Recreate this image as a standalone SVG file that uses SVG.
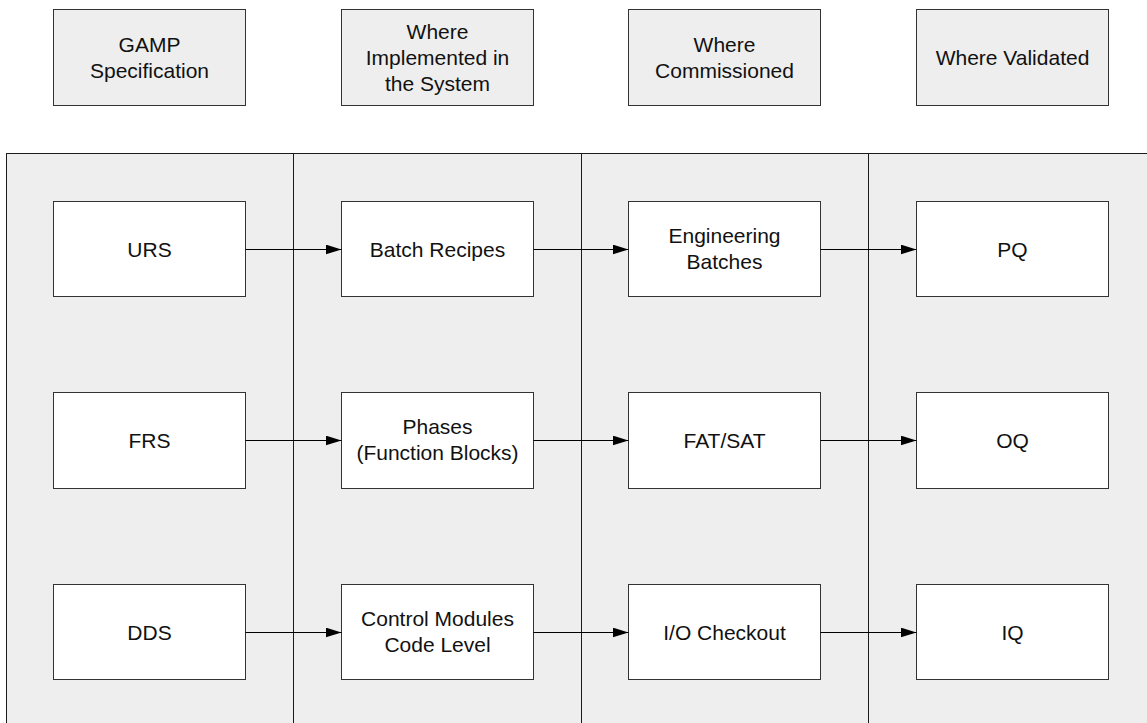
<svg xmlns="http://www.w3.org/2000/svg" width="1147" height="723" viewBox="0 0 1147 723">
<style>
.hdr{fill:#eeeeee;stroke:#333333;stroke-width:1}
.box{fill:#ffffff;stroke:#333333;stroke-width:1}
.lane{fill:#eeeeee;stroke:#1a1a1a;stroke-width:1}
.div{stroke:#1a1a1a;stroke-width:1;fill:none}
.t{font-family:"Liberation Sans",Arial,sans-serif;font-size:21px;fill:#111111;text-anchor:middle}
.c{stroke:#000000;stroke-width:1;fill:none;marker-end:url(#ah)}
</style>
<defs>
<marker id="ah" viewBox="0 0 16 10" refX="16" refY="5" markerWidth="16" markerHeight="10" markerUnits="userSpaceOnUse" orient="auto">
<path d="M0,0 L16,5 L0,10 Z" fill="#000000"/>
</marker>
</defs>
<rect width="1147" height="723" fill="#ffffff"/>
<g id="panel">
<rect class="lane" x="6.5" y="153.5" width="1160" height="600"/>
<line class="div" x1="293.5" y1="153.5" x2="293.5" y2="723"/>
<line class="div" x1="581.5" y1="153.5" x2="581.5" y2="723"/>
<line class="div" x1="868.5" y1="153.5" x2="868.5" y2="723"/>
</g>
<g id="h1"><rect class="hdr" x="53.5" y="9.5" width="192" height="96"/><text class="t" x="149.5" y="52">GAMP</text><text class="t" x="149.5" y="78">Specification</text></g>
<g id="h2"><rect class="hdr" x="341.5" y="9.5" width="192" height="96"/><text class="t" x="437.5" y="39">Where</text><text class="t" x="437.5" y="65">Implemented in</text><text class="t" x="437.5" y="91">the System</text></g>
<g id="h3"><rect class="hdr" x="628.5" y="9.5" width="192" height="96"/><text class="t" x="724.5" y="52">Where</text><text class="t" x="724.5" y="78">Commissioned</text></g>
<g id="h4"><rect class="hdr" x="916.5" y="9.5" width="192" height="96"/><text class="t" x="1012.5" y="65">Where Validated</text></g>

<g id="urs"><rect class="box" x="53.5" y="201.5" width="192" height="95"/><text class="t" x="149.5" y="256.5">URS</text></g>
<g id="batch"><rect class="box" x="341.5" y="201.5" width="192" height="95"/><text class="t" x="437.5" y="256.5">Batch Recipes</text></g>
<g id="eng"><rect class="box" x="628.5" y="201.5" width="192" height="95"/><text class="t" x="724.5" y="243">Engineering</text><text class="t" x="724.5" y="269">Batches</text></g>
<g id="pq"><rect class="box" x="916.5" y="201.5" width="192" height="95"/><text class="t" x="1012.5" y="256.5">PQ</text></g>

<g id="frs"><rect class="box" x="53.5" y="392.5" width="192" height="96"/><text class="t" x="149.5" y="448">FRS</text></g>
<g id="phases"><rect class="box" x="341.5" y="392.5" width="192" height="96"/><text class="t" x="437.5" y="434">Phases</text><text class="t" x="437.5" y="460">(Function Blocks)</text></g>
<g id="fat"><rect class="box" x="628.5" y="392.5" width="192" height="96"/><text class="t" x="724.5" y="448">FAT/SAT</text></g>
<g id="oq"><rect class="box" x="916.5" y="392.5" width="192" height="96"/><text class="t" x="1012.5" y="448">OQ</text></g>

<g id="dds"><rect class="box" x="53.5" y="584.5" width="192" height="95"/><text class="t" x="149.5" y="639.5">DDS</text></g>
<g id="cm"><rect class="box" x="341.5" y="584.5" width="192" height="95"/><text class="t" x="437.5" y="625.5">Control Modules</text><text class="t" x="437.5" y="651.5">Code Level</text></g>
<g id="io"><rect class="box" x="628.5" y="584.5" width="192" height="95"/><text class="t" x="724.5" y="639.5">I/O Checkout</text></g>
<g id="iq"><rect class="box" x="916.5" y="584.5" width="192" height="95"/><text class="t" x="1012.5" y="639.5">IQ</text></g>

<g id="connectors">
<line class="c" x1="245.5" y1="249.5" x2="341.5" y2="249.5"/>
<line class="c" x1="533.5" y1="249.5" x2="628.5" y2="249.5"/>
<line class="c" x1="820.5" y1="249.5" x2="916.5" y2="249.5"/>
<line class="c" x1="245.5" y1="440.5" x2="341.5" y2="440.5"/>
<line class="c" x1="533.5" y1="440.5" x2="628.5" y2="440.5"/>
<line class="c" x1="820.5" y1="440.5" x2="916.5" y2="440.5"/>
<line class="c" x1="245.5" y1="632.5" x2="341.5" y2="632.5"/>
<line class="c" x1="533.5" y1="632.5" x2="628.5" y2="632.5"/>
<line class="c" x1="820.5" y1="632.5" x2="916.5" y2="632.5"/>
</g>
</svg>
